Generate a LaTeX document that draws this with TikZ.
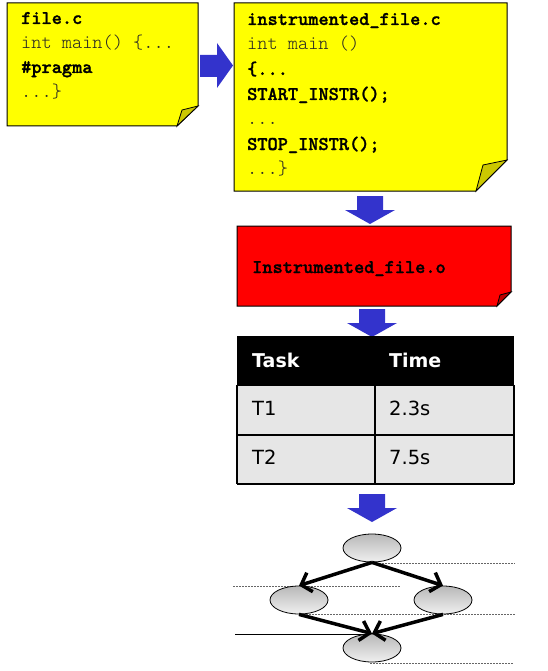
\documentclass[tikz,border=0pt]{standalone}
\usepackage{fontspec}
\newfontfamily\tabfont{DejaVu Sans}
\newfontfamily\cbold[FakeBold=1.3]{lmmonolt10-bold.otf}
\usetikzlibrary{arrows.meta,shapes.geometric}
\definecolor{arrowblue}{HTML}{3333CC}
\definecolor{notey}{HTML}{FFFF00}
\definecolor{foldy}{HTML}{CCC800}
\definecolor{noter}{HTML}{FF0000}
\definecolor{foldr}{HTML}{C00000}
\definecolor{tablegray}{HTML}{E6E6E6}
\tikzset{
  code/.style={font=\ttfamily\fontseries{l}\fontsize{19.4}{19.4}\selectfont, text=black!85, anchor=base west, inner sep=0pt},
  codeb/.style={font=\cbold\fontsize{19.4}{19.4}\selectfont, text=black, anchor=base west, inner sep=0pt},
  note/.style={draw=black, line width=1pt},
  fold/.style={draw=black, line width=0.8pt},
  darrow/.pic={\fill[arrowblue] (-13,0) -- (13,0) -- (13,14) -- (25,14) -- (0,28) -- (-25,14) -- (-13,14) -- cycle;},
  thead/.style={font=\tabfont\bfseries\fontsize{19}{19}\selectfont, text=white, anchor=base west, inner sep=0pt},
  tcell/.style={font=\tabfont\fontsize{19.5}{19.5}\selectfont, text=black, anchor=base west, inner sep=0pt},
  tline/.style={line width=1.6pt, draw=black},
  bubble/.style={ellipse, draw=black, line width=0.8pt, top color=black!28, bottom color=black!6, minimum width=58pt, minimum height=28pt, inner sep=0pt},
  flow/.style={line width=3.5pt, -{Straight Barb[length=9pt,width=20pt]}},
  level/.style={draw=black!60, line width=0.8pt, dash pattern=on 2pt off 1pt},
  levelsolid/.style={draw=black, line width=0.8pt}
}
\begin{document}
\begin{tikzpicture}[x=1pt,y=-1pt]
\useasboundingbox (0,0) rectangle (548,671);
% note 1
\path[note, fill=notey] (7,3) -- (198,3) -- (198,106) -- (177,126) -- (7,126) -- cycle;
\path[fold, fill=foldy] (177,126) -- (182,110) -- (198,106) -- cycle;
\node[codeb] (n1a) at (21,24) {file.c};
\node[code]  (n1b) at (21,48.5) {int main() \{...};
\node[codeb] (n1c) at (21,73) {\#pragma};
\node[code]  (n1d) at (21,98) {...\}};
% right arrow
\fill[arrowblue] (200,55) -- (217,55) -- (217,43) -- (233,65.5) -- (217,88) -- (217,77) -- (200,77) -- cycle;
% note 2
\path[note, fill=notey] (234,3) -- (507,3) -- (507,160) -- (476,191) -- (234,191) -- cycle;
\path[fold, fill=foldy] (476,191) -- (483,165) -- (507,160) -- cycle;
\node[codeb] (n2a) at (247,25) {instrumented\_file.c};
\node[code]  (n2b) at (247,50) {int main ()};
\node[codeb] (n2c) at (247,75) {\{...};
\node[codeb] (n2d) at (247,100) {START\_INSTR();};
\node[code]  (n2e) at (247,125) {...};
\node[codeb] (n2f) at (247,150) {STOP\_INSTR();};
\node[code]  (n2g) at (247,175) {...\}};
% down arrow 1
\path (370,196) pic {darrow};
% red object box
\path[note, fill=noter] (237,226) -- (511,226) -- (511,292) -- (497,306) -- (237,306) -- cycle;
\path[fold, fill=foldr] (497,306) -- (500,295) -- (511,292) -- cycle;
\node[codeb] (obj) at (252,273) {Instrumented\_file.o};
% down arrow 2
\path (372,309) pic {darrow};
% table
\fill[black] (237,336) rectangle (514,385);
\fill[tablegray] (237,385) rectangle (514,484);
\draw[tline] (237,385) -- (514,385);
\draw[tline] (237,435) -- (514,435);
\draw[tline] (237,484) -- (514,484);
\draw[tline] (375,385) -- (375,484);
\draw[tline] (237,385) -- (237,484);
\draw[tline] (514,385) -- (514,484);
\node[thead] (h1) at (252,367) {Task};
\node[thead] (h2) at (389,367) {Time};
\node[tcell] (c11) at (252,415) {T1};
\node[tcell] (c12) at (389,415) {2.3s};
\node[tcell] (c21) at (252,464) {T2};
\node[tcell] (c22) at (389,464) {7.5s};
% down arrow 3
\path (372,494) pic {darrow};
% level lines
\coordinate (l1a) at (370,563); \coordinate (l1b) at (515,563);
\coordinate (l2a) at (233,586); \coordinate (l2b) at (400,586);
\coordinate (l3a) at (300,614); \coordinate (l3b) at (515,614);
\coordinate (l4a) at (235,634); \coordinate (l4b) at (372,634);
\coordinate (l5a) at (370,663); \coordinate (l5b) at (513,663);
\draw[level] (l1a) -- (l1b);
\draw[level] (l2a) -- (l2b);
\draw[level] (l3a) -- (l3b);
\draw[levelsolid] (l4a) -- (l4b);
\draw[level] (l5a) -- (l5b);
% graph
\node[bubble] (e1) at (372,548) {};
\node[bubble] (e2) at (299,600) {};
\node[bubble] (e3) at (443,600) {};
\node[bubble] (e4) at (372,648) {};
\draw[flow] (e1.south) -- (e2.north);
\draw[flow] (e1.south) -- (e3.north);
\draw[flow] (e2.south) -- (e4.north);
\draw[flow] (e3.south) -- (e4.north);
\end{tikzpicture}
\end{document}
